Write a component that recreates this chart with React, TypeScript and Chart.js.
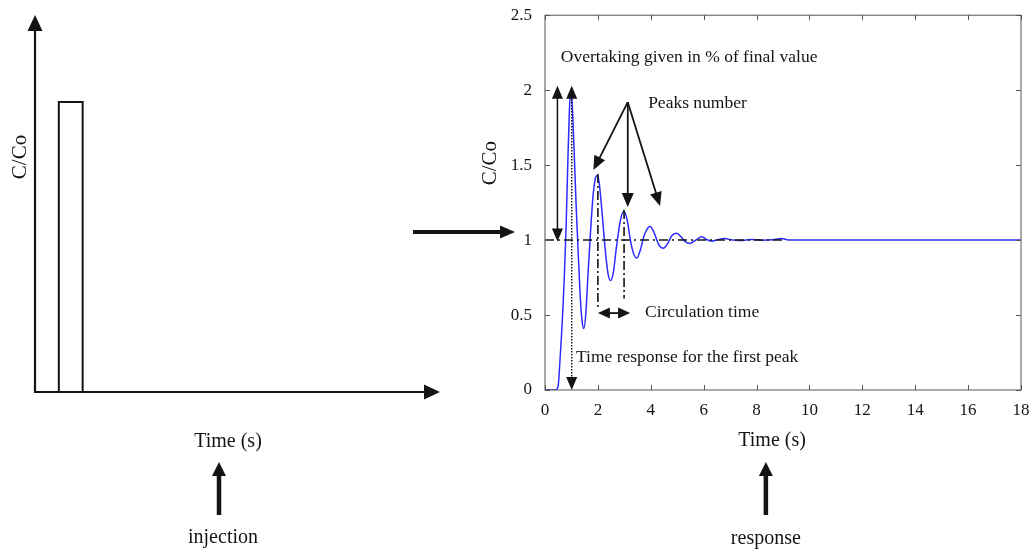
import React, { useEffect, useRef } from 'react';
import { Chart, registerables } from 'chart.js';

Chart.register(...registerables);

const FONT = "'Liberation Serif', 'Times New Roman', serif";
const INK = '#141414';

// Response curve C/Co vs time (s)
const timeS = [
  0, 0.4, 0.5, 0.55, 0.62, 0.68, 0.74, 0.8, 0.86, 0.92, 0.97, 1.03, 1.1, 1.18, 1.26, 1.34, 1.41, 1.47,
  1.54, 1.62, 1.72, 1.82, 1.92, 1.98, 2.05, 2.15, 2.27, 2.38, 2.48, 2.58, 2.7, 2.85, 2.98, 3.1, 3.25,
  3.37, 3.47, 3.6, 3.75, 3.97, 4.1, 4.3, 4.47, 4.65, 4.8, 4.98, 5.15, 5.3, 5.48, 5.7, 5.93, 6.1, 6.3,
  6.55, 6.8, 7.1, 7.4, 7.8, 8.2, 8.6, 8.96, 9.2, 18,
];
const responseCC = [
  0, 0, 0.03, 0.15, 0.35, 0.55, 0.8, 1.1, 1.5, 1.85, 2.0, 1.9, 1.6, 1.22, 0.9, 0.6, 0.45, 0.41,
  0.5, 0.75, 1.05, 1.3, 1.42, 1.43, 1.38, 1.2, 0.95, 0.78, 0.73, 0.78, 0.95, 1.13, 1.19, 1.14, 0.98,
  0.9, 0.88, 0.93, 1.03, 1.09, 1.06, 0.97, 0.945, 0.98, 1.03, 1.045, 1.02, 0.99, 0.978, 1.0, 1.022, 1.005, 0.993,
  1.003, 1.01, 1.0, 0.997, 1.004, 0.999, 1.002, 1.01, 1.0, 1.0,
];
// Final value reference line
const finalT = [0, 9];
const finalC = [1, 1];
// Injection pulse
const pulseT = [1, 1, 2, 2];
const pulseC = [0, 1, 1, 0];
// Axis ticks
const xTicks = [0, 2, 4, 6, 8, 10, 12, 14, 16, 18];
const yTicks = [0, 0.5, 1, 1.5, 2, 2.5];

type Ctx = CanvasRenderingContext2D;

function head(ctx: Ctx, tx: number, ty: number, ux: number, uy: number, len: number, w: number) {
  const bx = tx - ux * len;
  const by = ty - uy * len;
  const px = -uy;
  const py = ux;
  ctx.beginPath();
  ctx.moveTo(tx, ty);
  ctx.lineTo(bx + (px * w) / 2, by + (py * w) / 2);
  ctx.lineTo(bx - (px * w) / 2, by - (py * w) / 2);
  ctx.closePath();
  ctx.fill();
}

function arrow(
  ctx: Ctx,
  x1: number,
  y1: number,
  x2: number,
  y2: number,
  o: { lw?: number; len?: number; w?: number; start?: boolean; end?: boolean; dash?: number[] } = {}
) {
  const lw = o.lw ?? 1.5;
  const len = o.len ?? 12;
  const w = o.w ?? 10;
  const d = Math.hypot(x2 - x1, y2 - y1);
  const ux = (x2 - x1) / d;
  const uy = (y2 - y1) / d;
  const sx = o.start ? x1 + ux * len * 0.8 : x1;
  const sy = o.start ? y1 + uy * len * 0.8 : y1;
  const ex = o.end !== false ? x2 - ux * len * 0.8 : x2;
  const ey = o.end !== false ? y2 - uy * len * 0.8 : y2;
  ctx.save();
  ctx.strokeStyle = INK;
  ctx.fillStyle = INK;
  ctx.lineWidth = lw;
  ctx.setLineDash(o.dash ?? []);
  ctx.beginPath();
  ctx.moveTo(sx, sy);
  ctx.lineTo(ex, ey);
  ctx.stroke();
  ctx.setLineDash([]);
  if (o.end !== false) head(ctx, x2, y2, ux, uy, len, w);
  if (o.start) head(ctx, x1, y1, -ux, -uy, len, w);
  ctx.restore();
}

function text(ctx: Ctx, s: string, x: number, y: number, size: number, align: CanvasTextAlign = 'left', rot = 0) {
  ctx.save();
  ctx.fillStyle = INK;
  ctx.font = `${size}px ${FONT}`;
  ctx.textAlign = align;
  ctx.textBaseline = 'middle';
  ctx.translate(x, y);
  if (rot) ctx.rotate(rot);
  ctx.fillText(s, 0, 0);
  ctx.restore();
}

const responsePlugin = {
  id: 'responseDecor',
  afterDraw(chart: any) {
    const { ctx, chartArea: a, scales } = chart;
    const x = scales.x;
    const y = scales.y;
    const X = (v: number) => x.getPixelForValue(v);
    const Y = (v: number) => y.getPixelForValue(v);
    ctx.save();
    // frame and inward ticks
    ctx.strokeStyle = '#555';
    ctx.lineWidth = 1;
    ctx.strokeRect(a.left, a.top, a.right - a.left, a.bottom - a.top);
    ctx.beginPath();
    xTicks.forEach((v) => {
      const p = Math.round(X(v)) + 0.5;
      ctx.moveTo(p, a.bottom);
      ctx.lineTo(p, a.bottom - 5);
      ctx.moveTo(p, a.top);
      ctx.lineTo(p, a.top + 5);
    });
    yTicks.forEach((v) => {
      const p = Math.round(Y(v)) + 0.5;
      ctx.moveTo(a.left, p);
      ctx.lineTo(a.left + 5, p);
      ctx.moveTo(a.right, p);
      ctx.lineTo(a.right - 5, p);
    });
    ctx.stroke();
    ctx.restore();

    // overshoot arrow
    arrow(ctx, X(0.47), Y(2.03), X(0.47), Y(0.99), { lw: 1.5, start: true, len: 13, w: 11 });
    // time of first peak (dotted)
    arrow(ctx, X(1.01), Y(2.03), X(1.01), Y(0), { lw: 1.5, start: true, len: 13, w: 11, dash: [1.5, 1.5] });
    // circulation time verticals
    arrow(ctx, X(2.0), Y(1.44), X(2.0), Y(0.55), { lw: 1.6, end: false, dash: [9, 3, 2, 3] });
    arrow(ctx, X(2.99), Y(1.2), X(2.99), Y(0.61), { lw: 1.6, end: false, dash: [9, 3, 2, 3] });
    arrow(ctx, X(2.0), Y(0.513), X(3.22), Y(0.513), { lw: 1.8, start: true, len: 12, w: 11 });
    // peaks number arrows
    const ox = X(3.13);
    const oy = Y(1.92);
    arrow(ctx, ox, oy, X(1.83), Y(1.467), { lw: 1.8, len: 14, w: 12 });
    arrow(ctx, ox, oy, X(3.13), Y(1.22), { lw: 1.8, len: 14, w: 12 });
    arrow(ctx, ox, oy, X(4.35), Y(1.227), { lw: 1.8, len: 14, w: 12 });

    // texts
    text(ctx, 'Overtaking given in % of final value', X(0.6), Y(2.22), 17.5);
    text(ctx, 'Peaks number', X(3.9), Y(1.913), 17.5);
    text(ctx, 'Circulation time', X(3.78), Y(0.52), 17.5);
    text(ctx, 'Time response for the first peak', X(1.17), Y(0.22), 17.5);

    // axis titles
    text(ctx, 'C/Co', a.left - 55, a.top + 148, 21, 'center', -Math.PI / 2);
    text(ctx, 'Time (s)', a.left + (a.right - a.left) * 0.477, a.bottom + 51, 20, 'center');
    // response arrow + label
    const rx = a.left + (a.right - a.left) * 0.464;
    arrow(ctx, rx, a.bottom + 125, rx, a.bottom + 72, { lw: 4.5, len: 14, w: 14 });
    text(ctx, 'response', rx, a.bottom + 149, 20, 'center');
  },
};

const injectionPlugin = {
  id: 'injectionDecor',
  afterDraw(chart: any) {
    const { ctx, chartArea: a } = chart;
    // axes with arrows
    arrow(ctx, a.left, a.bottom + 1, a.left, a.top, { lw: 2.2, len: 16, w: 15 });
    arrow(ctx, a.left - 1, a.bottom, a.right, a.bottom, { lw: 2.2, len: 16, w: 15 });
    text(ctx, 'C/Co', a.left - 15, a.top + 142, 21, 'center', -Math.PI / 2);
    const tx = a.left + 193;
    text(ctx, 'Time (s)', tx, a.bottom + 50, 20, 'center');
    const ax = a.left + 184;
    arrow(ctx, ax, a.bottom + 123, ax, a.bottom + 70, { lw: 4.5, len: 14, w: 14 });
    text(ctx, 'injection', a.left + 188, a.bottom + 146, 20, 'center');
    // transfer arrow to the response plot
    arrow(ctx, a.right - 27, a.top + 217, a.right + 75, a.top + 217, { lw: 4, len: 15, w: 13 });
  },
};

export default function App() {
  const leftRef = useRef<HTMLCanvasElement>(null);
  const rightRef = useRef<HTMLCanvasElement>(null);

  useEffect(() => {
    const left = new Chart(leftRef.current as HTMLCanvasElement, {
      type: 'line',
      data: {
        datasets: [
          {
            data: pulseT.map((t, i) => ({ x: t, y: pulseC[i] })),
            borderColor: INK,
            borderWidth: 2,
            pointRadius: 0,
            tension: 0,
            borderJoinStyle: 'miter',
            clip: false as any,
          },
        ],
      },
      options: {
        responsive: false,
        animation: false,
        layout: { padding: { left: 35, right: 595, top: 15, bottom: 159 } },
        plugins: { legend: { display: false }, tooltip: { enabled: false } },
        scales: {
          x: { type: 'linear', min: 0, max: 17, display: false },
          y: { type: 'linear', min: 0, max: 1.3, display: false },
        },
      },
      plugins: [injectionPlugin],
    });

    const tickFont = { family: FONT, size: 17 };
    const right = new Chart(rightRef.current as HTMLCanvasElement, {
      type: 'line',
      data: {
        datasets: [
          {
            data: finalT.map((t, i) => ({ x: t, y: finalC[i] })),
            borderColor: INK,
            borderWidth: 1.5,
            borderDash: [9, 4, 2, 4],
            pointRadius: 0,
            order: 0,
          },
          {
            data: timeS.map((t, i) => ({ x: t, y: responseCC[i] })),
            borderColor: '#2b2bff',
            borderWidth: 1.5,
            pointRadius: 0,
            cubicInterpolationMode: 'monotone',
            order: 1,
          },
        ],
      },
      options: {
        responsive: false,
        animation: false,
        layout: { padding: { left: 500, right: 14, top: 15, bottom: 131 } },
        plugins: { legend: { display: false }, tooltip: { enabled: false } },
        scales: {
          x: {
            type: 'linear',
            min: 0,
            max: 18,
            afterBuildTicks: (s: any) => {
              s.ticks = xTicks.map((v) => ({ value: v }));
            },
            ticks: {
              font: tickFont,
              color: INK,
              padding: 2,
              maxRotation: 0,
              autoSkip: false,
              callback: (v: any) => String(v),
            },
            grid: { display: false },
            border: { display: false },
            afterFit: (s: any) => {
              s.height = 30;
            },
          },
          y: {
            type: 'linear',
            min: 0,
            max: 2.5,
            afterBuildTicks: (s: any) => {
              s.ticks = yTicks.map((v) => ({ value: v }));
            },
            ticks: { font: tickFont, color: INK, padding: 5, callback: (v: any) => String(v) },
            grid: { display: false },
            border: { display: false },
            afterFit: (s: any) => {
              s.width = 45;
            },
          },
        },
      },
      plugins: [responsePlugin],
    });

    return () => {
      left.destroy();
      right.destroy();
    };
  }, []);

  const cs: React.CSSProperties = { position: 'absolute', left: 0, top: 0, display: 'block' };
  return (
    <div style={{ position: 'fixed', left: 0, top: 0, width: 1035, height: 551, background: '#fff' }}>
      <canvas ref={leftRef} width={1035} height={551} style={cs} />
      <canvas ref={rightRef} width={1035} height={551} style={cs} />
    </div>
  );
}
